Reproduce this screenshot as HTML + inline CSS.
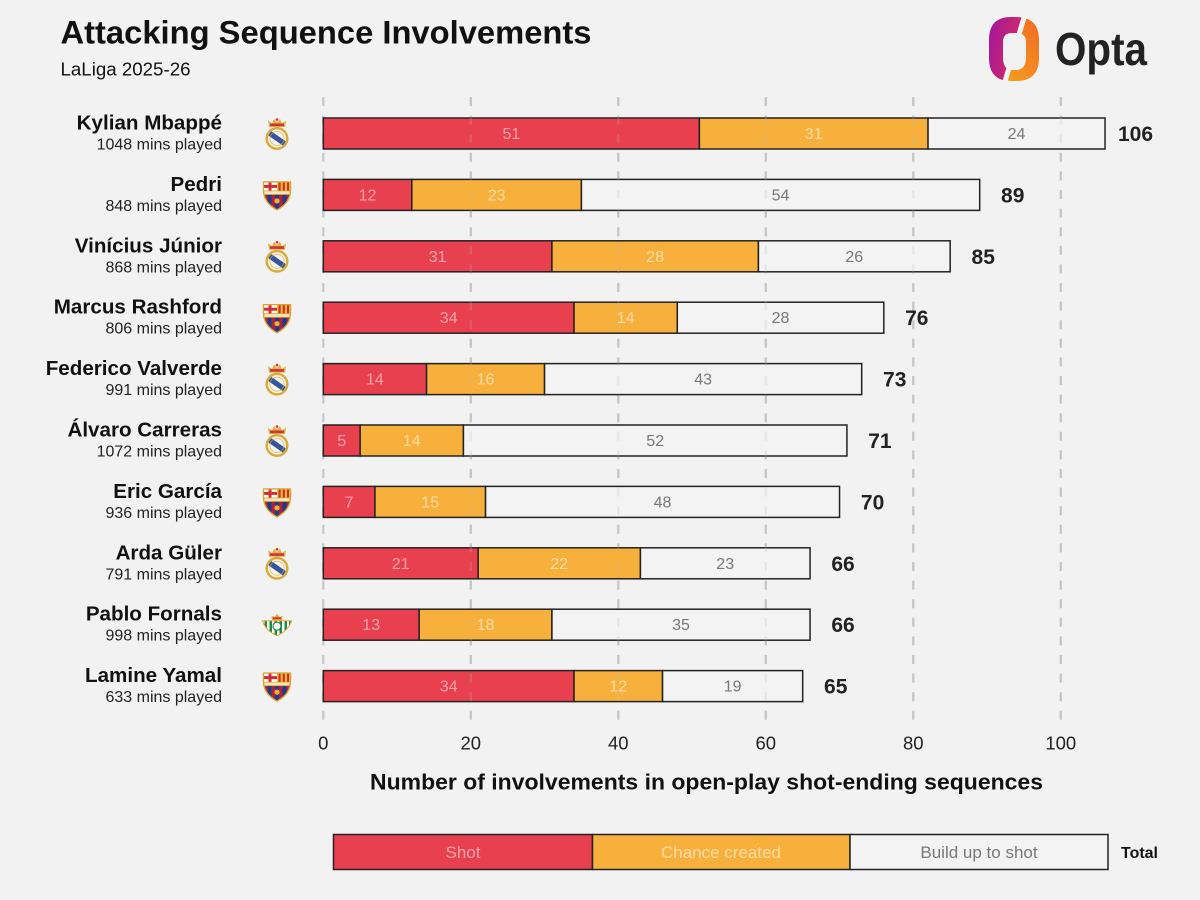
<!DOCTYPE html>
<html>
<head>
<meta charset="utf-8">
<style>
html,body{margin:0;padding:0;background:#f2f2f2;}
svg{display:block;}
text{font-family:"Liberation Sans",sans-serif;}
</style>
</head>
<body>
<svg width="1200" height="900" viewBox="0 0 1200 900" xmlns="http://www.w3.org/2000/svg">
<defs>
  <linearGradient id="gl" x1="0" y1="0" x2="1" y2="0.3">
    <stop offset="0" stop-color="#a0169f"/>
    <stop offset="1" stop-color="#e8334d"/>
  </linearGradient>
  <linearGradient id="gr" x1="0" y1="1" x2="1" y2="0">
    <stop offset="0" stop-color="#f9a81f"/>
    <stop offset="1" stop-color="#f06a24"/>
  </linearGradient>
  <clipPath id="cl"><polygon points="980,0 1025.9,0 1002.7,90 980,90"/></clipPath>
  <clipPath id="cr"><polygon points="1025.9,0 1050,0 1050,90 1002.7,90"/></clipPath>

  <clipPath id="rmc"><circle cx="12" cy="21" r="9"/></clipPath>
  <g id="rm">
    <path d="M4,9.5 L3,3 L7,6 L9,1.5 L12,5 L15,1.5 L17,6 L21,3 L20,9.5 Z" fill="#e2b13c"/>
    <rect x="5" y="6" width="14" height="2.6" fill="#d2323c"/>
    <circle cx="12" cy="2" r="1.3" fill="#d2323c"/>
    <circle cx="12" cy="21" r="10.3" fill="#f6f2e8" stroke="#d8aa38" stroke-width="2.4"/>
    <g clip-path="url(#rmc)">
      <rect x="0" y="18.3" width="24" height="5.2" fill="#35569f" transform="rotate(35 12 21)"/>
    </g>
    <circle cx="12" cy="21" r="7" fill="none" stroke="#d8aa38" stroke-width="0.8" opacity="0.7"/>
  </g>

  <clipPath id="fcbc"><path d="M1,2 L28,2 L28,10 C28,20 22,26 14.5,30 C7,26 1,20 1,10 Z"/></clipPath>
  <g id="fcb">
    <g clip-path="url(#fcbc)">
      <rect x="0" y="0" width="29" height="30" fill="#1e3b8a"/>
      <rect x="0" y="0" width="14.5" height="11" fill="#ffffff"/>
      <rect x="6" y="2" width="3" height="9" fill="#d42a34"/>
      <rect x="1" y="5" width="13.5" height="3" fill="#d42a34"/>
      <rect x="14.5" y="0" width="15" height="11" fill="#f1c230"/>
      <rect x="16" y="0" width="2.2" height="11" fill="#d42a34"/>
      <rect x="20.2" y="0" width="2.2" height="11" fill="#d42a34"/>
      <rect x="24.4" y="0" width="2.2" height="11" fill="#d42a34"/>
      <rect x="0" y="11" width="29" height="3.6" fill="#f3e7c0"/>
      <rect x="9" y="14.6" width="3.5" height="16" fill="#b4203c"/>
      <rect x="16.5" y="14.6" width="3.5" height="16" fill="#b4203c"/>
      <rect x="1.5" y="14.6" width="3.5" height="16" fill="#b4203c"/>
      <rect x="24" y="14.6" width="3.5" height="16" fill="#b4203c"/>
      <circle cx="14.5" cy="21" r="2.6" fill="#e8b430"/>
    </g>
    <path d="M1,2 L28,2 L28,10 C28,20 22,26 14.5,30 C7,26 1,20 1,10 Z" fill="none" stroke="#d8a52e" stroke-width="1.4"/>
    <line x1="1" y1="11" x2="28" y2="11" stroke="#d8a52e" stroke-width="0.8"/>
    <line x1="1" y1="14.6" x2="28" y2="14.6" stroke="#d8a52e" stroke-width="0.8"/>
  </g>

  <clipPath id="btc"><path d="M1,8 L30,8 C28,15 22,20 15.5,23 C9,20 3,15 1,8 Z"/></clipPath>
  <g id="bt">
    <path d="M10.5,7.5 L10,3 L13,4.5 L15.5,1 L18,4.5 L21,3 L20.5,7.5 Z" fill="#e4a83a"/>
    <rect x="11.5" y="4.5" width="8" height="2" fill="#d43a32"/>
    <g clip-path="url(#btc)">
      <rect x="0" y="7" width="31" height="17" fill="#ffffff"/>
      <rect x="3" y="7" width="2.5" height="17" fill="#1e8b45"/>
      <rect x="8" y="7" width="2.5" height="17" fill="#1e8b45"/>
      <rect x="13" y="7" width="2.5" height="17" fill="#1e8b45"/>
      <rect x="18" y="7" width="2.5" height="17" fill="#1e8b45"/>
      <rect x="23" y="7" width="2.5" height="17" fill="#1e8b45"/>
      <rect x="27.5" y="7" width="2.5" height="17" fill="#1e8b45"/>
      <circle cx="15.5" cy="13.5" r="4" fill="#ffffff" stroke="#1e8b45" stroke-width="1.2"/>
    </g>
    <path d="M1,8 L30,8 C28,15 22,20 15.5,23 C9,20 3,15 1,8 Z" fill="none" stroke="#e0a838" stroke-width="1"/>
  </g>
</defs>

<rect x="0" y="0" width="1200" height="900" fill="#f2f2f2"/>

<text x="60.5" y="43.5" font-size="32.5" font-weight="bold" fill="#111" textLength="531" lengthAdjust="spacingAndGlyphs">Attacking Sequence Involvements</text>
<text x="60.5" y="75.7" font-size="18.5" fill="#111" textLength="130" lengthAdjust="spacingAndGlyphs">LaLiga 2025-26</text>

<g>
  <path fill-rule="evenodd" clip-path="url(#cl)" fill="url(#gl)" d="M1011,17 L1016,17 Q1039,17 1039,40 L1039,58 Q1039,81 1016,81 L1011,81 Q989,81 989,58 L989,40 Q989,17 1011,17 Z M1012,33 Q1003,33 1003,42 L1003,57 Q1003,70 1012,70 L1016,70 Q1026,70 1026,57 L1026,42 Q1026,33 1016,33 Z"/>
  <path fill-rule="evenodd" clip-path="url(#cr)" fill="url(#gr)" d="M1011,17 L1016,17 Q1039,17 1039,40 L1039,58 Q1039,81 1016,81 L1011,81 Q989,81 989,58 L989,40 Q989,17 1011,17 Z M1012,33 Q1003,33 1003,42 L1003,57 Q1003,70 1012,70 L1016,70 Q1026,70 1026,57 L1026,42 Q1026,33 1016,33 Z"/>
  <line x1="1026.3" y1="10" x2="1002.4" y2="90" stroke="#f2f2f2" stroke-width="5"/>
  <text x="1055" y="65" font-size="46" font-weight="bold" fill="#222" textLength="92" lengthAdjust="spacingAndGlyphs">Opta</text>
</g>

<g stroke="#c9c9c9" stroke-width="2.3" stroke-dasharray="9 9.6">
  <line x1="323.3" y1="97" x2="323.3" y2="722"/>
  <line x1="470.8" y1="97" x2="470.8" y2="722"/>
  <line x1="618.3" y1="97" x2="618.3" y2="722"/>
  <line x1="765.8" y1="97" x2="765.8" y2="722"/>
  <line x1="913.3" y1="97" x2="913.3" y2="722"/>
  <line x1="1060.8" y1="97" x2="1060.8" y2="722"/>
</g>

<g stroke="#222" stroke-width="1.5">
  <rect x="323.3" y="118" width="376.1" height="31" fill="#e8404f"/>
  <rect x="699.4" y="118" width="228.65" height="31" fill="#f8b03c"/>
  <rect x="928.05" y="118" width="177" height="31" fill="#f3f3f3"/>
  <rect x="323.3" y="179.4" width="88.5" height="31" fill="#e8404f"/>
  <rect x="411.8" y="179.4" width="169.625" height="31" fill="#f8b03c"/>
  <rect x="581.425" y="179.4" width="398.25" height="31" fill="#f3f3f3"/>
  <rect x="323.3" y="240.8" width="228.625" height="31" fill="#e8404f"/>
  <rect x="551.925" y="240.8" width="206.5" height="31" fill="#f8b03c"/>
  <rect x="758.425" y="240.8" width="191.75" height="31" fill="#f3f3f3"/>
  <rect x="323.3" y="302.2" width="250.75" height="31" fill="#e8404f"/>
  <rect x="574.05" y="302.2" width="103.25" height="31" fill="#f8b03c"/>
  <rect x="677.3" y="302.2" width="206.5" height="31" fill="#f3f3f3"/>
  <rect x="323.3" y="363.6" width="103.25" height="31" fill="#e8404f"/>
  <rect x="426.55" y="363.6" width="118" height="31" fill="#f8b03c"/>
  <rect x="544.55" y="363.6" width="317.125" height="31" fill="#f3f3f3"/>
  <rect x="323.3" y="425" width="36.875" height="31" fill="#e8404f"/>
  <rect x="360.175" y="425" width="103.25" height="31" fill="#f8b03c"/>
  <rect x="463.425" y="425" width="383.5" height="31" fill="#f3f3f3"/>
  <rect x="323.3" y="486.4" width="51.625" height="31" fill="#e8404f"/>
  <rect x="374.925" y="486.4" width="110.625" height="31" fill="#f8b03c"/>
  <rect x="485.55" y="486.4" width="354" height="31" fill="#f3f3f3"/>
  <rect x="323.3" y="547.8" width="154.875" height="31" fill="#e8404f"/>
  <rect x="478.175" y="547.8" width="162.25" height="31" fill="#f8b03c"/>
  <rect x="640.425" y="547.8" width="169.625" height="31" fill="#f3f3f3"/>
  <rect x="323.3" y="609.2" width="95.875" height="31" fill="#e8404f"/>
  <rect x="419.175" y="609.2" width="132.75" height="31" fill="#f8b03c"/>
  <rect x="551.925" y="609.2" width="258.125" height="31" fill="#f3f3f3"/>
  <rect x="323.3" y="670.6" width="250.75" height="31" fill="#e8404f"/>
  <rect x="574.05" y="670.6" width="88.5" height="31" fill="#f8b03c"/>
  <rect x="662.55" y="670.6" width="140.125" height="31" fill="#f3f3f3"/>
</g>

<g stroke="#bbbbbb" stroke-width="2.3" stroke-dasharray="9 9.6" opacity="0.22">
  <line x1="470.8" y1="97" x2="470.8" y2="722"/>
  <line x1="618.3" y1="97" x2="618.3" y2="722"/>
  <line x1="765.8" y1="97" x2="765.8" y2="722"/>
  <line x1="913.3" y1="97" x2="913.3" y2="722"/>
  <line x1="1060.8" y1="97" x2="1060.8" y2="722"/>
</g>

<g font-size="16" text-anchor="middle">
  <g fill="#f5a3ab">
    <text x="511.35" y="139">51</text>
    <text x="367.55" y="200.4">12</text>
    <text x="437.6" y="261.8">31</text>
    <text x="448.7" y="323.2">34</text>
    <text x="374.9" y="384.6">14</text>
    <text x="341.7" y="446">5</text>
    <text x="349.1" y="507.4">7</text>
    <text x="400.7" y="568.8">21</text>
    <text x="371.2" y="630.2">13</text>
    <text x="448.7" y="691.6">34</text>
  </g>
  <g fill="#fcdca6">
    <text x="813.7" y="139">31</text>
    <text x="496.6" y="200.4">23</text>
    <text x="655.2" y="261.8">28</text>
    <text x="625.7" y="323.2">14</text>
    <text x="485.55" y="384.6">16</text>
    <text x="411.8" y="446">14</text>
    <text x="430.2" y="507.4">15</text>
    <text x="559.3" y="568.8">22</text>
    <text x="485.55" y="630.2">18</text>
    <text x="618.3" y="691.6">12</text>
  </g>
  <g fill="#777">
    <text x="1016.55" y="139">24</text>
    <text x="780.55" y="200.4">54</text>
    <text x="854.3" y="261.8">26</text>
    <text x="780.55" y="323.2">28</text>
    <text x="703.1" y="384.6">43</text>
    <text x="655.2" y="446">52</text>
    <text x="662.55" y="507.4">48</text>
    <text x="725.2" y="568.8">23</text>
    <text x="681" y="630.2">35</text>
    <text x="732.6" y="691.6">19</text>
  </g>
</g>

<g font-size="21" font-weight="bold" fill="#222" text-anchor="middle">
  <text x="1135.5" y="141">106</text>
  <text x="1012.7" y="202.4">89</text>
  <text x="983.2" y="263.8">85</text>
  <text x="916.8" y="325.2">76</text>
  <text x="894.7" y="386.6">73</text>
  <text x="879.9" y="448">71</text>
  <text x="872.6" y="509.4">70</text>
  <text x="843" y="570.8">66</text>
  <text x="843" y="632.2">66</text>
  <text x="835.7" y="693.6">65</text>
</g>

<g text-anchor="end" fill="#111">
  <g font-size="20.6" font-weight="bold">
    <text x="222" y="129.5">Kylian Mbappé</text>
    <text x="222" y="190.9">Pedri</text>
    <text x="222" y="252.3">Vinícius Júnior</text>
    <text x="222" y="313.7">Marcus Rashford</text>
    <text x="222" y="375.1">Federico Valverde</text>
    <text x="222" y="436.5">Álvaro Carreras</text>
    <text x="222" y="497.9">Eric García</text>
    <text x="222" y="559.3">Arda Güler</text>
    <text x="222" y="620.7">Pablo Fornals</text>
    <text x="222" y="682.1">Lamine Yamal</text>
  </g>
  <g font-size="16" fill="#222">
    <text x="222" y="149.5">1048 mins played</text>
    <text x="222" y="210.9">848 mins played</text>
    <text x="222" y="272.3">868 mins played</text>
    <text x="222" y="333.7">806 mins played</text>
    <text x="222" y="395.1">991 mins played</text>
    <text x="222" y="456.5">1072 mins played</text>
    <text x="222" y="517.9">936 mins played</text>
    <text x="222" y="579.3">791 mins played</text>
    <text x="222" y="640.7">998 mins played</text>
    <text x="222" y="702.1">633 mins played</text>
  </g>
</g>

<use href="#rm" transform="translate(265,117.5)"/>
<use href="#fcb" transform="translate(262.5,179.9)"/>
<use href="#rm" transform="translate(265,240.3)"/>
<use href="#fcb" transform="translate(262.5,302.7)"/>
<use href="#rm" transform="translate(265,363.1)"/>
<use href="#rm" transform="translate(265,424.5)"/>
<use href="#fcb" transform="translate(262.5,486.9)"/>
<use href="#rm" transform="translate(265,547.3)"/>
<use href="#bt" transform="translate(261.5,612.7)"/>
<use href="#fcb" transform="translate(262.5,671.1)"/>

<g font-size="18.5" fill="#222" text-anchor="middle">
  <text x="323.3" y="749.5">0</text>
  <text x="470.8" y="749.5">20</text>
  <text x="618.3" y="749.5">40</text>
  <text x="765.8" y="749.5">60</text>
  <text x="913.3" y="749.5">80</text>
  <text x="1060.8" y="749.5">100</text>
</g>
<text x="370" y="789.5" font-size="22" font-weight="bold" fill="#111" textLength="673" lengthAdjust="spacingAndGlyphs">Number of involvements in open-play shot-ending sequences</text>

<g stroke="#222" stroke-width="1.5">
  <rect x="333.5" y="834.5" width="259" height="35" fill="#e8404f"/>
  <rect x="592.5" y="834.5" width="257.5" height="35" fill="#f8b03c"/>
  <rect x="850" y="834.5" width="258" height="35" fill="#f3f3f3"/>
</g>
<g font-size="17" text-anchor="middle">
  <text x="463" y="858" fill="#f5a3ab">Shot</text>
  <text x="721" y="858" fill="#fcdca6">Chance created</text>
  <text x="979" y="858" fill="#777">Build up to shot</text>
</g>
<text x="1121" y="858" font-size="16" font-weight="bold" fill="#111" textLength="37" lengthAdjust="spacingAndGlyphs">Total</text>
</svg>
</body>
</html>
